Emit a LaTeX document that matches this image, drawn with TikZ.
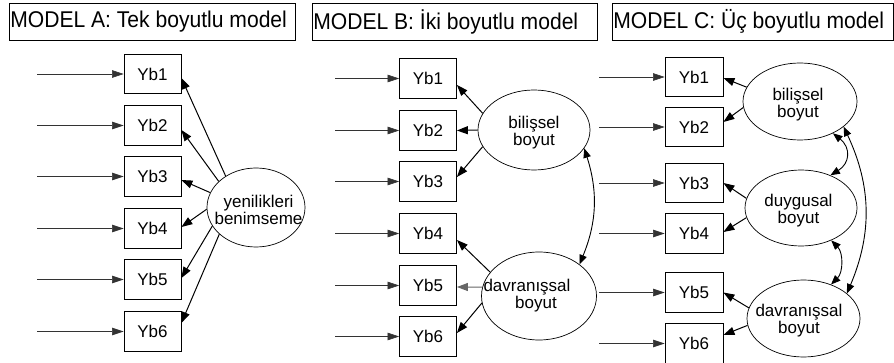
\documentclass[tikz,border=0pt]{standalone}
\usepackage{fontspec}
\setmainfont{Liberation Sans}
\newfontfamily\titlefont{Liberation Sans}[FakeStretch=0.925]
\usetikzlibrary{arrows.meta,shapes.geometric}
\tikzset{
  obs/.style={draw, line width=0.8pt, minimum width=57pt, minimum height=39.5pt, inner sep=0pt, font=\fontsize{17}{18}\selectfont},
  lat/.style={ellipse, draw, line width=0.7pt, inner sep=0pt},
  lbl/.style={align=center, inner sep=0pt, font=\fontsize{17}{15.5}\selectfont},
  ttlbox/.style={draw, line width=0.8pt, inner sep=0pt, minimum height=37.5pt},
  ttl/.style={anchor=west, inner sep=0pt, font=\titlefont\fontsize{22.8}{24}\selectfont},
  load/.style={-{Triangle[length=11pt,width=8pt]}, line width=1pt},
  inp/.style={-{Triangle[length=11.5pt,width=7.5pt]}, line width=0.6pt, draw=black!80},
  cov/.style={{Triangle[length=9.5pt,width=7.5pt]}-{Triangle[length=9.5pt,width=7.5pt]}, line width=0.9pt},
}
\begin{document}
\begin{tikzpicture}[x=1pt,y=-1pt]
\useasboundingbox (0,0) rectangle (894,363);
% titles
\node[ttlbox, minimum width=286pt] (tA) at (152,21.75) {};
\node[ttl] (tAt) at ([xshift=1.5pt]tA.west) {MODEL A: Tek boyutlu model};
\node[ttlbox, minimum width=285pt] (tB) at (454.5,21.75) {};
\node[ttl] (tBt) at ([xshift=1.5pt]tB.west) {MODEL B: İki boyutlu model};
\node[ttlbox, minimum width=281.5pt] (tC) at (752.75,21.75) {};
\node[ttl] (tCt) at ([xshift=1.5pt]tC.west) {MODEL C: Üç boyutlu model};
% model A
\foreach \i/\y in {1/74,2/125.5,3/176.5,4/228.5,5/279.5,6/331.5}{
  \node[obs] (a\i) at (152.5,\y) {Yb\i};
  \coordinate (ai\i) at (37,\y);
  \draw[inp] (ai\i) -- (a\i);
}
\node[lat, minimum width=98pt, minimum height=79pt] (A) at (256,207.5) {};
\node[lbl] (Al) at (258.5,210) {yenilikleri\\benimseme};
\draw[load] (A.134) -- ([yshift=-4pt]a1.east);
\draw[load] (A.145) -- ([yshift=-4.5pt]a2.east);
\draw[load] (A.162) -- ([yshift=-3.5pt]a3.east);
\draw[load] (A.182) -- ([yshift=1.5pt]a4.east);
\draw[load] (A.203) -- ([yshift=1.5pt]a5.east);
\draw[load] (A.216) -- ([yshift=8.5pt]a6.east);
% model B
\foreach \i/\y in {1/78.5,2/130.5,3/181.5,4/233.5,5/285.5,6/336.5}{
  \node[obs] (b\i) at (428,\y) {Yb\i};
  \coordinate (bi\i) at (335,\y);
  \draw[inp] (bi\i) -- (b\i);
}
\node[lat, minimum width=112pt, minimum height=80pt] (B1) at (534,130) {};
\node[lbl] (B1l) at (534,132.5) {bilişsel\\boyut};
\node[lat, minimum width=115pt, minimum height=88pt] (B2) at (539,296) {};
\node[lbl] (B2l) at (527,295.5) {davranışsal\\\hspace*{18pt}boyut};
\draw[load] (B1.162) -- ([yshift=-6.5pt]b1.east);
\draw[load] (B1.180) -- (b2.east);
\draw[load] (B1.198) -- ([yshift=4.5pt]b3.east);
\draw[load] (B2.154) -- ([yshift=-6.5pt]b4.east);
\draw[load, draw=black!60] (B2.171) -- ([yshift=-1.5pt]b5.east);
\draw[load] (B2.187) -- ([yshift=3.5pt]b6.east);
\draw[cov] (B1.340) to[bend left=20] (B2.38);
% model C
\foreach \i/\y in {1/77,2/127,3/183,4/233.5,5/292.5,6/343.5}{
  \node[obs, minimum width=58pt] (c\i) at (694,\y) {Yb\i};
  \coordinate (ci\i) at (599,\y);
  \draw[inp] (ci\i) -- (c\i);
}
\node[lat, minimum width=114pt, minimum height=77pt] (C1) at (800,101.5) {};
\node[lbl] (C1l) at (798,105) {bilişsel\\boyut};
\node[lat, minimum width=112pt, minimum height=76pt] (C2) at (801,208) {};
\node[lbl] (C2l) at (798.5,210.5) {duygusal\\boyut};
\node[lat, minimum width=113pt, minimum height=77pt] (C3) at (803.5,318.5) {};
\node[lbl] (C3l) at (799,320.5) {davranışsal\\boyut};
\draw[load] (C1.165) -- ([yshift=-1pt]c1.east);
\draw[load] (C1.186) -- ([yshift=5pt]c2.east);
\draw[load] (C2.170) -- (c3.east);
\draw[load] (C2.190) -- ([yshift=1.5pt]c4.east);
\draw[load] (C3.169) -- (c5.east);
\draw[load] (C3.187) -- ([yshift=8.5pt]c6.east);
\draw[cov] (C1.316) to[bend left=55, looseness=1.4] (C2.48);
\draw[cov] (C2.-47) to[bend left=45] (C3.51);
\draw[cov] (C1.-30) to[bend left=24] (C3.30);
\end{tikzpicture}
\end{document}
